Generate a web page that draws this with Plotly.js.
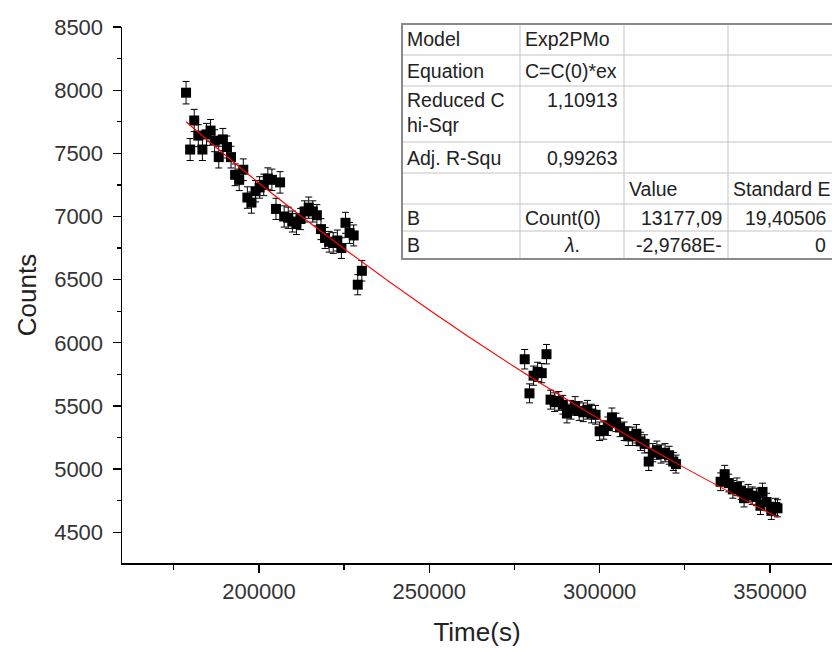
<!DOCTYPE html>
<html>
<head>
<meta charset="utf-8">
<script src="https://cdn.plot.ly/plotly-3.0.1.min.js"></script>
<style>html,body{margin:0;padding:0;background:#fff;overflow:hidden}#chart{width:832px;height:651px}</style>
</head>
<body>
<div id="chart"></div>
<script>
// ---- data ----
const timeA = [178600,179800,181000,182200,183400,184600,185800,187000,188200,189400,190600,191800,193000,194200,195400,196600,197800,199000,200200,201400,202600,203800,205000,206200,207400,208600,209800,211000,212200,213400,214600,215800,217000,218200,219400,220600,221800,223000,224200,225400,226600,227800,229000,230200];
const countsA = [7980,7530,7760,7640,7530,7650,7680,7600,7470,7610,7550,7470,7330,7290,7370,7150,7110,7200,7230,7250,7300,7290,7060,7270,7000,6990,6960,6940,6980,7040,7070,7040,7010,6900,6830,6800,6790,6810,6750,6950,6870,6850,6460,6570];
const timeB = [278000,279400,280600,281800,283000,284400,285600,286800,288000,289200,290400,291600,292800,294000,295200,296400,297600,298800,300000,301200,302400,303600,304800,306000,307200,308400,309600,310800,312000,313200,314400,315600,316800,318000,319200,320400,321600,322400];
const countsB = [5870,5600,5740,5770,5760,5910,5550,5530,5540,5510,5440,5470,5500,5460,5450,5470,5440,5430,5300,5310,5340,5410,5370,5330,5300,5260,5260,5280,5220,5200,5060,5130,5150,5120,5130,5110,5060,5040];
const timeC = [335500,336700,337900,339100,340300,341500,342400,343600,344800,346000,347200,347800,349000,350400,351600,352200];
const countsC = [4900,4960,4890,4840,4860,4830,4770,4810,4790,4780,4710,4820,4740,4670,4700,4690];
const errA = [89,87,88,87,87,87,88,87,86,87,87,86,86,85,86,85,84,85,85,85,85,85,84,85,84,84,83,83,84,84,84,84,84,83,83,82,82,83,82,83,83,83,80,81];
const errB = [77,75,76,76,76,77,75,74,74,74,74,74,74,74,74,74,74,74,73,73,73,74,73,73,73,73,73,73,72,72,71,72,72,72,72,71,71,71];
const errC = [70,70,70,70,70,70,69,69,69,69,69,69,69,68,69,68];
// fit curve
const fitTime = [178600,200000,225000,250000,275000,300000,325000,352200];
const fitCounts = [7750,7265,6745,6260,5810,5395,5010,4620];
// axis ticks
const xTicks = [200000,250000,300000,350000];
const yTicks = [4500,5000,5500,6000,6500,7000,7500,8000,8500];
// fit table text
const tabCol1 = ["Model","Equation","Reduced C<br>hi-Sqr","Adj. R-Squ","","B","B"];
const tabCol2 = ["Exp2PMo","C=C(0)*ex","1,10913","0,99263","","Count(0)","<i>λ</i>."];
const tabCol3 = ["","","","","Value","13177,09","-2,9768E-"];
const tabCol4 = ["","","","","Standard E","19,40506","0"];

const times = timeA.concat(timeB, timeC);
const counts = countsA.concat(countsB, countsC);
const errs = errA.concat(errB, errC);

// ---- geometry (pixels) ----
const W = 832, H = 651, ML = 122, MR = 0, MT = 27, MB = 88;
const PW = W - ML - MR, PH = H - MT - MB;
const px = p => (p - ML) / PW;
const py = p => (H - MB - p) / PH;

const colX = [402, 520, 624, 728, 860];
const rowY = [24, 55, 86, 142, 173, 204, 231, 259];
const align = [
  ["left","left","left","left"],
  ["left","left","left","left"],
  ["left","right","left","left"],
  ["left","right","left","left"],
  ["left","left","left","left"],
  ["left","left","right","right"],
  ["left","center","right","right"]
];
const cols = [tabCol1, tabCol2, tabCol3, tabCol4];
const tfont = {family: "Liberation Sans, Arial, sans-serif", size: 19.5, color: "#222"};

const shapes = [];
for (let i = 1; i < rowY.length - 1; i++) {
  shapes.push({type:"line", xref:"paper", yref:"paper", x0:px(colX[0]), x1:px(W+20), y0:py(rowY[i]), y1:py(rowY[i]), line:{color:"#c4c4c4", width:1}});
}
for (let j = 1; j < 4; j++) {
  shapes.push({type:"line", xref:"paper", yref:"paper", x0:px(colX[j]), x1:px(colX[j]), y0:py(rowY[0]), y1:py(rowY[rowY.length-1]), line:{color:"#c4c4c4", width:1}});
}
shapes.push({type:"rect", xref:"paper", yref:"paper", x0:px(colX[0]), x1:px(W+20), y0:py(rowY[0]), y1:py(rowY[rowY.length-1]), line:{color:"#8a8a8a", width:2}, fillcolor:"rgba(0,0,0,0)"});

const annotations = [];
for (let j = 0; j < 4; j++) {
  for (let i = 0; i < 7; i++) {
    const t = cols[j][i];
    if (!t) continue;
    const a = align[i][j];
    let x;
    const right = Math.min(colX[j+1], W);
    if (a === "left") x = colX[j] + 3;
    else if (a === "right") x = right - 4;
    else x = (colX[j] + right) / 2;
    const ann = {xref:"paper", yref:"paper", x:px(x), xanchor:a, text:t, showarrow:false, font:tfont, align:a};
    if (i === 2) { ann.y = py(rowY[i] + 1); ann.yanchor = "top"; }
    else { ann.y = py((rowY[i] + rowY[i+1]) / 2); ann.yanchor = "middle"; }
    annotations.push(ann);
  }
}

const traces = [
  {
    x: times, y: counts, type: "scatter", mode: "markers",
    marker: {symbol: "square", size: 10, color: "#000"},
    error_y: {type: "data", array: errs, visible: true, color: "#000", thickness: 1, width: 3.5},
    showlegend: false, hoverinfo: "x+y"
  },
  {
    x: fitTime, y: fitCounts, type: "scatter", mode: "lines",
    line: {color: "#ff0000", width: 1.1, shape: "spline"},
    showlegend: false
  }
];

const axFont = {family: "Liberation Sans, Arial, sans-serif", size: 22, color: "#333"};
const layout = {
  width: W, height: H,
  margin: {l: ML, r: MR, t: MT, b: MB, pad: 0},
  paper_bgcolor: "#fff", plot_bgcolor: "#fff",
  showlegend: false,
  xaxis: {
    range: [159800, 368200], tickvals: xTicks, ticktext: xTicks.map(String),
    ticks: "outside", ticklen: 8, tickwidth: 1.3, tickcolor: "#000",
    showline: true, linecolor: "#000", linewidth: 1.5, mirror: false,
    showgrid: false, zeroline: false, tickfont: axFont,
    minor: {dtick: 25000, tick0: 0, ticks: "outside", ticklen: 5, tickwidth: 1.3, tickcolor: "#000", showgrid: false},
    title: {text: "Time(s)", font: {family: "Liberation Sans, Arial, sans-serif", size: 26, color: "#222"}, standoff: 20}
  },
  yaxis: {
    range: [4257, 8500], tickvals: yTicks, ticktext: yTicks.map(String),
    ticks: "outside", ticklen: 8, tickwidth: 1.3, tickcolor: "#000", ticklabelstandoff: 5,
    showline: true, linecolor: "#000", linewidth: 1.5, mirror: false,
    showgrid: false, zeroline: false, tickfont: axFont,
    minor: {dtick: 250, tick0: 0, ticks: "outside", ticklen: 4, tickwidth: 1.3, tickcolor: "#000", showgrid: false},
    title: {text: "Counts", font: {family: "Liberation Sans, Arial, sans-serif", size: 26, color: "#222"}, standoff: 10}
  },
  shapes: shapes,
  annotations: annotations
};

Plotly.newPlot("chart", traces, layout, {displayModeBar: false, staticPlot: true});
</script>
</body>
</html>
